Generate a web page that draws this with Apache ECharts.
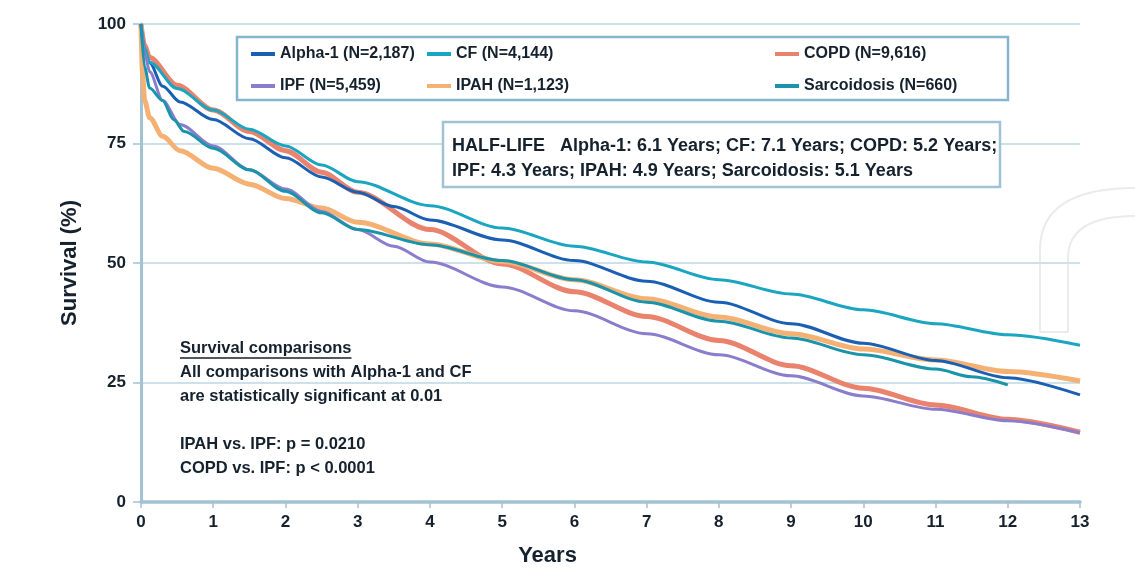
<!DOCTYPE html>
<html>
<head>
<meta charset="utf-8">
<script src="https://cdn.jsdelivr.net/npm/echarts@6/dist/echarts.min.js"></script>
<style>
html,body{margin:0;padding:0;background:#fff;}
#chart{width:1135px;height:578px;}
</style>
</head>
<body>
<div id="chart"></div>
<script>
// ---- Data ----
const seriesNames = ['Alpha-1 (N=2,187)', 'CF (N=4,144)', 'COPD (N=9,616)', 'IPF (N=5,459)', 'IPAH (N=1,123)', 'Sarcoidosis (N=660)'];
const xTicks = [0,1,2,3,4,5,6,7,8,9,10,11,12,13];
const yTicks = [0,25,50,75,100];

const alphaYears = [0, 0.05, 0.12, 0.3, 0.54, 1, 1.5, 2, 2.5, 3, 3.5, 4, 5, 6, 7, 8, 9, 10, 11, 12, 13];
const alphaSurv  = [100, 94, 91.9, 87, 83.7, 80, 76, 72, 68, 64.8, 61.8, 59, 54.8, 50.5, 46.2, 41.8, 37.3, 33.2, 29.6, 26, 22.4];

const cfYears = [0, 0.05, 0.12, 0.5, 1, 1.5, 2, 2.5, 3, 4, 5, 6, 7, 8, 9, 10, 11, 12, 13];
const cfSurv  = [100, 95, 92, 86.5, 82, 78, 74.5, 70.5, 67, 62, 57.3, 53.5, 50.2, 46.5, 43.5, 40.2, 37.3, 35, 32.8];

const copdYears = [0, 0.05, 0.12, 0.5, 1, 1.5, 2, 2.5, 3, 4, 5, 6, 7, 8, 9, 10, 11, 12, 13];
const copdSurv  = [100, 95.5, 93, 87.2, 82, 77.5, 73.5, 69, 64.8, 57, 49.8, 44, 38.8, 33.8, 28.5, 23.8, 20.3, 17.3, 14.6];

const ipfYears = [0, 0.05, 0.12, 0.3, 0.54, 1, 1.5, 2, 2.5, 3, 3.5, 4, 5, 6, 7, 8, 9, 10, 11, 12, 13];
const ipfSurv  = [100, 94, 90, 84, 79, 74.5, 69.5, 65.5, 60.8, 57, 53.5, 50.2, 45, 40, 35.2, 30.8, 26.4, 22.2, 19.4, 17, 14.5];

const ipahYears = [0, 0.02, 0.05, 0.12, 0.3, 0.54, 1, 1.5, 2, 2.5, 3, 4, 5, 6, 7, 8, 9, 10, 11, 12, 13];
const ipahSurv  = [100, 90, 84, 80.4, 76.5, 73.5, 69.8, 66.5, 63.5, 61.5, 58.5, 54, 50.3, 46.5, 42.5, 38.7, 35.2, 32, 29.7, 27.3, 25.3];

const sarcYears = [0, 0.05, 0.12, 0.3, 0.45, 0.6, 1, 1.5, 2, 2.5, 3, 4, 5, 6, 7, 8, 9, 10, 11, 11.5, 12];
const sarcSurv  = [100, 91, 86.6, 84, 80, 77.5, 74, 69.5, 65, 60.5, 57, 53.8, 50.5, 46.5, 41.8, 37.8, 34.3, 30.8, 27.8, 26.2, 24.5];

const halfLifeLines = ['HALF-LIFE   Alpha-1: 6.1 Years; CF: 7.1 Years; COPD: 5.2 Years;', 'IPF: 4.3 Years; IPAH: 4.9 Years; Sarcoidosis: 5.1 Years'];
const compLines = ['Survival comparisons', 'All comparisons with Alpha-1 and CF', 'are statistically significant at 0.01', '', 'IPAH vs. IPF: p = 0.0210', 'COPD vs. IPF: p < 0.0001'];

// ---- Styling ----
const FONT = "'Liberation Sans', Arial, sans-serif";
const TXT = '#15222e';
const colors = ['#1b5fb3', '#1aa5c0', '#ea836e', '#8a7dcc', '#f4b173', '#1994ab'];
const widths = [3, 3, 5, 3, 5, 3];

function pairs(xs, ys){ return xs.map((x,i)=>[x, ys[i]]); }
const allData = [pairs(alphaYears, alphaSurv), pairs(cfYears, cfSurv), pairs(copdYears, copdSurv), pairs(ipfYears, ipfSurv), pairs(ipahYears, ipahSurv), pairs(sarcYears, sarcSurv)];

const series = seriesNames.map((n,i)=>({
  name: n, type: 'line', data: allData[i], showSymbol: false, symbol: 'none',
  smooth: 0.3, smoothMonotone: 'x',
  lineStyle: {color: colors[i], width: widths[i]}, itemStyle: {color: colors[i]},
  z: [3,3,2,3,2,3][i]
}));

function legendCol(left, names){
  return {
    left: left, top: 41, orient: 'vertical', itemGap: 16,
    itemWidth: 24, itemHeight: 4, icon: 'rect',
    data: names, selectedMode: false,
    textStyle: {fontFamily: FONT, fontWeight: 'bold', fontSize: 16, color: TXT}
  };
}

const compFont = "bold 16.5px " + FONT;
const mctx = document.createElement('canvas').getContext('2d');
mctx.font = compFont;
const underlineW = mctx.measureText(compLines[0]).width;

const WM = '#ebebeb';
const graphics = [
  {type: 'rect', shape: {x: 237, y: 37, width: 771, height: 63}, style: {fill: '#fff', stroke: '#86b6cc', lineWidth: 2.5}, z: 1},
  {type: 'rect', shape: {x: 443, y: 122, width: 557, height: 65}, style: {fill: '#fff', stroke: '#9fc2d4', lineWidth: 2.5}, z: 1},
  {type: 'text', x: 452, y: 146, style: {text: halfLifeLines[0], font: "bold 18px " + FONT, fill: TXT, textVerticalAlign: 'middle'}, z: 5},
  {type: 'text', x: 452, y: 171, style: {text: halfLifeLines[1], font: "bold 18px " + FONT, fill: TXT, textVerticalAlign: 'middle'}, z: 5},
  // faint watermark outline at the right edge
  {type: 'line', shape: {x1: 1040, y1: 332, x2: 1040, y2: 250}, style: {stroke: WM, lineWidth: 2}, z: 0, silent: true},
  {type: 'line', shape: {x1: 1068, y1: 332, x2: 1068, y2: 258}, style: {stroke: WM, lineWidth: 2}, z: 0, silent: true},
  {type: 'line', shape: {x1: 1040, y1: 332, x2: 1068, y2: 332}, style: {stroke: WM, lineWidth: 2}, z: 0, silent: true},
  {type: 'bezierCurve', shape: {x1: 1040, y1: 250, cpx1: 1040, cpy1: 188, x2: 1135, y2: 188}, style: {stroke: WM, lineWidth: 2, fill: null}, z: 0, silent: true},
  {type: 'bezierCurve', shape: {x1: 1068, y1: 258, cpx1: 1068, cpy1: 216, x2: 1135, y2: 216}, style: {stroke: WM, lineWidth: 2, fill: null}, z: 0, silent: true}
];
compLines.forEach((t,i)=>{
  if(t) graphics.push({type:'text', x: 180, y: 348 + i*24, style:{text: t, font: compFont, fill: TXT, textVerticalAlign: 'middle'}, z: 5});
});
graphics.push({type:'line', shape:{x1:180, y1:358, x2:180 + underlineW, y2:358}, style:{stroke: TXT, lineWidth: 1.3}, z: 5});

const chart = echarts.init(document.getElementById('chart'), null, {renderer: 'canvas'});
chart.setOption({
  animation: false,
  backgroundColor: '#fff',
  grid: {left: 141, right: 55, top: 24, bottom: 76, containLabel: false},
  xAxis: {
    type: 'value', min: 0, max: 13, interval: 1,
    name: 'Years', nameLocation: 'middle', nameGap: 43,
    nameTextStyle: {fontFamily: FONT, fontWeight: 'bold', fontSize: 22, color: TXT, padding: [0, 126, 0, 0]},
    axisLine: {show: true, lineStyle: {color: '#a3c2d3', width: 3.5}},
    axisTick: {show: true, length: 6, lineStyle: {color: '#a3c2d3', width: 1.5}},
    axisLabel: {fontFamily: FONT, fontWeight: 'bold', fontSize: 17, color: TXT, margin: 12,
      formatter: v => xTicks.includes(v) ? String(v) : ''},
    splitLine: {show: false}
  },
  yAxis: {
    type: 'value', min: 0, max: 100, interval: 25,
    name: 'Survival (%)', nameLocation: 'middle', nameGap: 60, nameRotate: 90,
    nameTextStyle: {fontFamily: FONT, fontWeight: 'bold', fontSize: 22, color: TXT},
    axisLine: {show: true, lineStyle: {color: '#a3c2d3', width: 3}},
    axisTick: {show: true, length: 8, lineStyle: {color: '#a3c2d3', width: 1.5}},
    axisLabel: {fontFamily: FONT, fontWeight: 'bold', fontSize: 17, color: TXT, margin: 15,
      formatter: v => yTicks.includes(v) ? String(v) : ''},
    splitLine: {show: true, lineStyle: {color: '#cce1ea', width: 2}}
  },
  legend: [
    legendCol(246, [seriesNames[0], seriesNames[3]]),
    legendCol(422, [seriesNames[1], seriesNames[4]]),
    legendCol(770, [seriesNames[2], seriesNames[5]])
  ],
  graphic: graphics,
  series: series
});
</script>
</body>
</html>
